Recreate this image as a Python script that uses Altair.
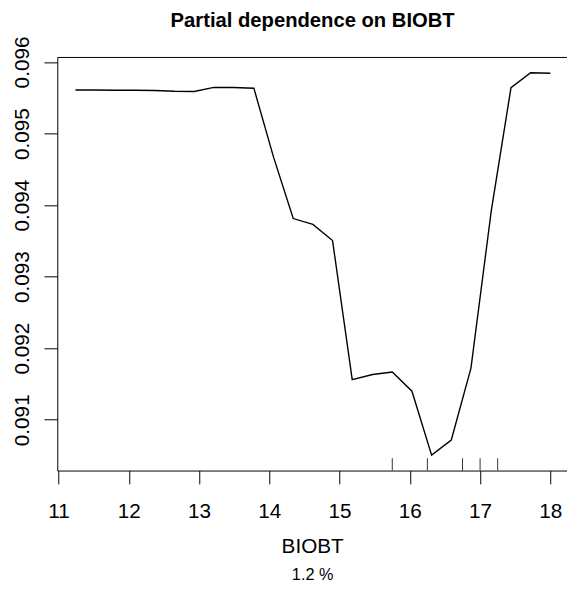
import altair as alt
import pandas as pd

# ---- data ----
biobt = [11.24, 11.52, 11.80, 12.08, 12.37, 12.65, 12.93, 13.21, 13.49, 13.78,
         14.06, 14.34, 14.62, 14.90, 15.18, 15.47, 15.75, 16.03, 16.31, 16.59,
         16.87, 17.16, 17.44, 17.72, 18.00]
partial_dep = [0.095609, 0.095608, 0.095605, 0.095605, 0.095602, 0.095591, 0.095587,
               0.095646, 0.095644, 0.095633, 0.094670, 0.093812, 0.093730, 0.093504,
               0.091560, 0.091633, 0.091666, 0.091399, 0.090505, 0.090717, 0.091721,
               0.093927, 0.095642, 0.095849, 0.095843]
rug_biobt = [15.75, 16.25, 16.75, 17.0, 17.25]
x_ticks = [11, 12, 13, 14, 15, 16, 17, 18]
y_ticks = [0.091, 0.092, 0.093, 0.094, 0.095, 0.096]
title_text = ["Partial dependence on BIOBT"]
x_title = "BIOBT"
footnote = ["1.2 %"]

W, H = 517, 419
FONT = "Liberation Sans"

df = pd.DataFrame({"biobt": biobt, "pd": partial_dep})
rug_df = pd.DataFrame({"biobt": rug_biobt})
one = pd.DataFrame({"a": [0]})
foot_df = pd.DataFrame({"t": footnote})
title_df = pd.DataFrame({"t": title_text})

xscale = alt.Scale(domain=[10.982, 18.237], nice=False, zero=False)
yscale = alt.Scale(domain=[0.090290, 0.0960633], nice=False, zero=False)

x_axis = alt.Axis(values=x_ticks, format="d", title=x_title,
                  labelBaseline="alphabetic", labelPadding=34,
                  labelFlush=False, labelOverlap=False,
                  titleY=83.5, titleBaseline="alphabetic",
                  titleFontSize=21, titleFontWeight="normal")

curve = alt.Chart(df).mark_line(color="black", strokeWidth=1.4).encode(
    x=alt.X("biobt:Q", scale=xscale, axis=x_axis),
    y=alt.Y("pd:Q", scale=yscale,
            axis=alt.Axis(values=y_ticks, format=".3f", title=None,
                          labelAngle=-90, labelAlign="center",
                          labelBaseline="alphabetic", labelPadding=16,
                          labelFlush=False, labelOverlap=False)),
)

rug = alt.Chart(rug_df).mark_rule(color="#333333", strokeWidth=1).encode(
    x=alt.X("biobt:Q", scale=xscale, axis=x_axis),
    y=alt.value(H - 12.5),
    y2=alt.value(H),
)

top_line = alt.Chart(one).mark_rule(color="black", strokeWidth=1).encode(
    x=alt.value(0), x2=alt.value(W), y=alt.value(0)
)

title = alt.Chart(title_df).mark_text(
    font=FONT, fontSize=20.5, fontWeight="bold", align="center",
    baseline="alphabetic", color="black"
).encode(text="t:N", x=alt.value(W / 2 + 0.5), y=alt.value(-31))

foot = alt.Chart(foot_df).mark_text(
    font=FONT, fontSize=16.5, align="center", baseline="alphabetic", color="black"
).encode(text="t:N", x=alt.value(W / 2 + 0.5), y=alt.value(530))

chart = alt.layer(curve, rug, top_line, title, foot).properties(
    width=W, height=H,
    padding={"left": 50, "top": 46, "right": 0, "bottom": 118},
    autosize=alt.AutoSizeParams(type="none"),
).configure_view(stroke=None).configure_axis(
    domainColor="black", domainWidth=1, tickColor="black", tickWidth=1, tickSize=13.5,
    labelColor="black", titleColor="black", labelFont=FONT, titleFont=FONT,
    labelFontSize=21, grid=False,
)

chart.save("out.html", embed_options={"renderer": "svg", "actions": False})
